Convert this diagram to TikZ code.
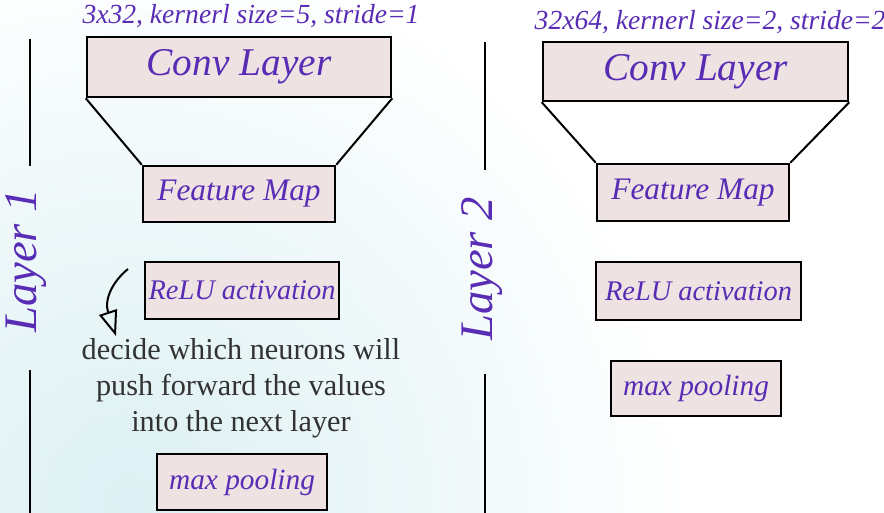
\documentclass[tikz,border=0pt]{standalone}
\usepackage{fontspec}
\setmainfont{Liberation Serif}
\usetikzlibrary{arrows.meta}
\definecolor{labelpurple}{RGB}{88,44,180}
\definecolor{boxfill}{RGB}{238,226,226}
\definecolor{notegray}{RGB}{50,50,50}
\definecolor{haze}{RGB}{220,240,243}
\tikzset{
  stagebox/.style={draw=black, line width=1.9pt, fill=boxfill, inner sep=0pt,
    text=labelpurple, font=\itshape\fontsize{#1}{#1}\selectfont},
  stagebox/.default=22pt,
  funnel/.style={draw=black, line width=1.5pt},
  divider/.style={draw=black, line width=1.6pt},
  layertitle/.style={text=labelpurple, font=\itshape\fontsize{35pt}{35pt}\selectfont, rotate=90},
  convlabel/.style={text=labelpurple, font=\itshape\fontsize{20.7pt}{20.7pt}\selectfont},
}
\begin{document}
\begin{tikzpicture}[x=0.75pt,y=-0.75pt]
\useasboundingbox (0,0) rectangle (884,513);
% soft background tint
\begin{scope}
  \clip (0,0) rectangle (884,513);
  \fill[white] (0,0) rectangle (884,513);
  \shade[inner color=haze, outer color=white] (130,500) circle (560);
\end{scope}

% ---------- first layer ----------
\node[convlabel] (k1) at (251,16) {3x32, kernerl size=5, stride=1};
\node[stagebox=29.5pt, minimum width=228pt, minimum height=45pt] (conv1) at (239,67) {Conv Layer};
\node[stagebox=23.5pt, minimum width=144pt, minimum height=42pt] (fm1) at (239,194) {Feature Map};
\node[stagebox=21.3pt, minimum width=145.5pt, minimum height=42.75pt] (relu1) at (242,290.5) {ReLU activation};
\node[stagebox=22pt, minimum width=127.5pt, minimum height=42pt] (pool1) at (242,482) {max pooling};
\draw[funnel] (conv1.south west) -- (fm1.north west);
\draw[funnel] (conv1.south east) -- (fm1.north east);

\node[text=notegray, align=center, font=\fontsize{22.7pt}{27pt}\selectfont] (note) at (241,388)
  {decide which neurons will\\push forward the values\\into the next layer};
\coordinate (a0) at (128,269);
\coordinate (a1) at (116,336);
\draw[line width=1.5pt, -{Triangle[open, length=19pt, width=14pt, line width=1.5pt]}]
  (a0) .. controls (112,282) and (104,300) .. (a1);

\node[layertitle] (L1) at (26,261) {Layer 1};
\coordinate (d1a) at (30,39);
\coordinate (d1b) at (30,166);
\coordinate (d1c) at (30,370);
\coordinate (d1d) at (30,513);
\draw[divider] (d1a) -- (d1b);
\draw[divider] (d1c) -- (d1d);

% ---------- second layer ----------
\node[convlabel, anchor=west] (k2) at (530,22) {32x64, kernerl size=2, stride=2};
\node[stagebox=29.5pt, minimum width=228.75pt, minimum height=44.25pt] (conv2) at (695.5,71.5) {Conv Layer};
\node[stagebox=23.5pt, minimum width=144pt, minimum height=42.75pt] (fm2) at (693,192.5) {Feature Map};
\node[stagebox=21.3pt, minimum width=153.75pt, minimum height=43.5pt] (relu2) at (698.5,291) {ReLU activation};
\node[stagebox=22pt, minimum width=127.5pt, minimum height=41.25pt] (pool2) at (696,388.5) {max pooling};
\draw[funnel] (conv2.south west) -- (fm2.north west);
\draw[funnel] (conv2.south east) -- (fm2.north east);

\node[layertitle] (L2) at (482,269) {Layer 2};
\coordinate (d2a) at (485,42);
\coordinate (d2b) at (485,170);
\coordinate (d2c) at (485,374);
\coordinate (d2d) at (485,513);
\draw[divider] (d2a) -- (d2b);
\draw[divider] (d2c) -- (d2d);
\end{tikzpicture}
\end{document}
